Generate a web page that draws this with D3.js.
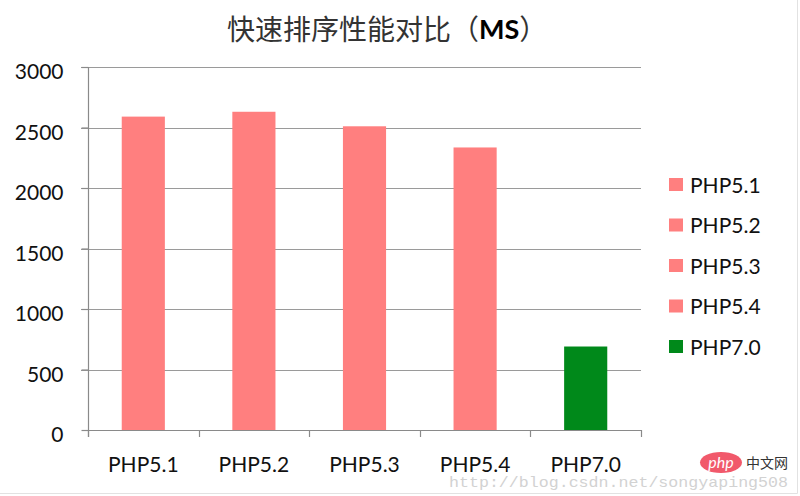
<!DOCTYPE html>
<html><head><meta charset="utf-8">
<script src="https://cdn.jsdelivr.net/npm/d3@7"></script>
<style>html,body{margin:0;padding:0;background:#fff;}svg{display:block;}</style>
</head><body>
<svg id="chart" width="800" height="496"></svg>
<script>
const categories = ["PHP5.1","PHP5.2","PHP5.3","PHP5.4","PHP7.0"];
const values = [2590, 2630, 2510, 2335, 690];
const colors = ["#FF7F7F","#FF7F7F","#FF7F7F","#FF7F7F","#00891A"];
const yTicks = [0,500,1000,1500,2000,2500,3000];
const titleMain = "快速排序性能对比（";
const titleUnit = "MS";
const titleEnd = "）";
const watermark = "http://blog.csdn.net/songyaping508";

(function(){
const svg = d3.select("#chart");
const font = "Lato, 'Open Sans', sans-serif";
const pL = 88, pR = 641, pT = 67, pB = 430;

svg.append("rect").attr("x",0).attr("y",0).attr("width",800).attr("height",496).attr("fill","#fff");
// faint frame
svg.append("line").attr("x1",797.5).attr("x2",797.5).attr("y1",0).attr("y2",493.5).attr("stroke","#e2e2e2");
svg.append("line").attr("x1",0).attr("x2",797.5).attr("y1",493.5).attr("y2",493.5).attr("stroke","#e2e2e2");

const x = d3.scaleBand().domain(categories).range([pL,pR]).paddingInner(0.61).paddingOuter(0.305);
const y = d3.scaleLinear().domain([0,3000]).range([pB,pT]);

// gridlines
svg.append("g").selectAll("line").data(yTicks.filter(d=>d>0)).join("line")
  .attr("x1",pL-7).attr("x2",pR).attr("y1",d=>Math.round(y(d))+0.5).attr("y2",d=>Math.round(y(d))+0.5)
  .attr("stroke","#9a9a9a").attr("stroke-width",1.2);

// y axis
const yAxis = d3.axisLeft(y).tickValues(yTicks).tickFormat(d3.format("d")).tickSize(7).tickPadding(18);
const gy = svg.append("g").attr("transform",`translate(${pL+0.5},0)`).call(yAxis);
gy.select(".domain").remove();
gy.selectAll(".tick line").attr("stroke","#8a8a8a").attr("stroke-width",1.2);
gy.selectAll(".tick text").attr("font-family",font).attr("font-size",21).attr("fill","#111")
  .attr("dy","0.55em").attr("x",-25);
svg.append("line").attr("x1",pL+0.5).attr("x2",pL+0.5).attr("y1",pT).attr("y2",pB+7)
  .attr("stroke","#8a8a8a").attr("stroke-width",1.2);

// bars
svg.append("g").selectAll("rect").data(categories).join("rect")
  .attr("x",d=>x(d)).attr("width",x.bandwidth())
  .attr("y",(d,i)=>y(values[i])).attr("height",(d,i)=>y(0)-y(values[i]))
  .attr("fill",(d,i)=>colors[i]);

// x axis
const step = x.step();
const boundaries = d3.range(categories.length+1).map(i=>pL + i*step);
svg.append("line").attr("x1",pL).attr("x2",pR).attr("y1",pB+0.5).attr("y2",pB+0.5)
  .attr("stroke","#8a8a8a").attr("stroke-width",1.2);
svg.append("g").selectAll("line").data(boundaries).join("line")
  .attr("x1",d=>Math.round(d)+0.5).attr("x2",d=>Math.round(d)+0.5).attr("y1",pB).attr("y2",pB+7)
  .attr("stroke","#8a8a8a").attr("stroke-width",1.2);
svg.append("g").selectAll("text").data(categories).join("text")
  .attr("x",d=>x(d)+x.bandwidth()/2).attr("y",464).attr("dy","0.36em")
  .attr("text-anchor","middle").attr("font-family",font).attr("font-size",21).attr("fill","#111")
  .text(d=>d);

// legend
const lg = svg.append("g").selectAll("g").data(categories).join("g")
  .attr("transform",(d,i)=>`translate(669,${185 + i*40.5})`);
lg.append("rect").attr("x",0).attr("y",-7).attr("width",14).attr("height",13).attr("fill",(d,i)=>colors[i]);
lg.append("text").attr("x",21).attr("y",0).attr("dy","0.36em").attr("font-family",font).attr("font-size",21)
  .attr("fill","#111").text(d=>d);

// title
const t = svg.append("text").attr("x",227).attr("y",28).attr("dominant-baseline","central")
  .attr("font-family","'Noto Sans CJK SC', sans-serif").attr("font-size",28).attr("fill","#333");
t.append("tspan").text(titleMain);
t.append("tspan").attr("font-family","Lato, sans-serif").attr("font-weight","bold").attr("fill","#000").attr("font-size",27).text(titleUnit);
t.append("tspan").text(titleEnd);

// watermark
svg.append("text").attr("x",449).attr("y",487).attr("font-family","'Liberation Mono', monospace")
  .attr("font-size",15).attr("fill","#d2d2d2").attr("textLength",339).attr("lengthAdjust","spacingAndGlyphs")
  .text(watermark);
svg.append("ellipse").attr("cx",721).attr("cy",462.5).attr("rx",21).attr("ry",10.5).attr("fill","#f0475b").attr("opacity",0.9);
svg.append("text").attr("x",721).attr("y",463).attr("dy","0.3em").attr("text-anchor","middle")
  .attr("font-family","Lato, sans-serif").attr("font-style","italic").attr("font-size",16).attr("fill","#fff").text("php");
svg.append("text").attr("x",746).attr("y",463).attr("dy","0.36em")
  .attr("font-family","'Noto Sans CJK SC', sans-serif").attr("font-size",14).attr("fill","#333").text("中文网");
})();
</script>
</body></html>
